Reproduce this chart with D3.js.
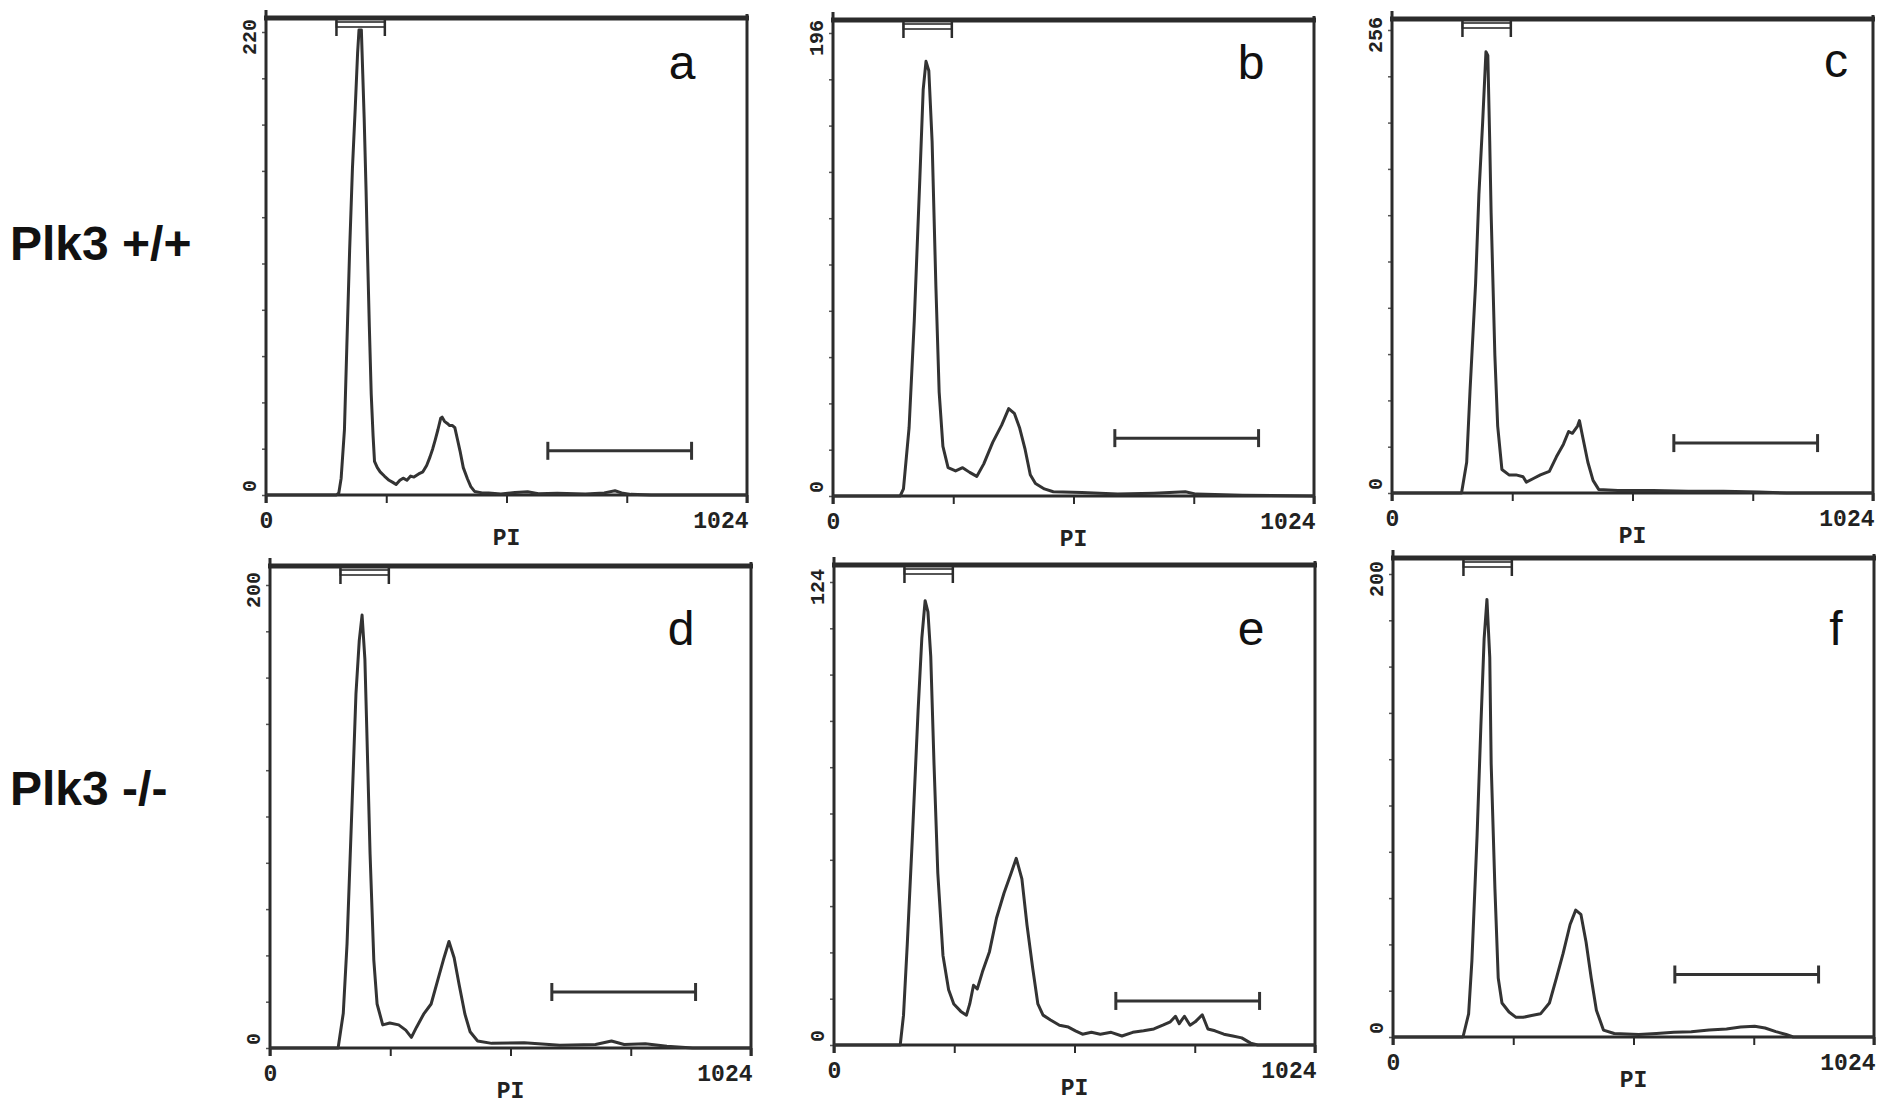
<!DOCTYPE html>
<html>
<head>
<meta charset="utf-8">
<script src="https://cdn.jsdelivr.net/npm/d3@7"></script>
<style>
  body { margin: 0; background: #fff; }
  .tick-lbl { font-family: "Liberation Mono", "Courier New", monospace; font-weight: bold; fill: #222; }
</style>
</head>
<body>
<div class="canvas"></div>
<script>
// panel letters and y-axis maxima (counts)
const panelLetters = ['a', 'b', 'c', 'd', 'e', 'f'];
const yMax = [220, 196, 256, 200, 124, 200];
const rowLabels = ['Plk3 +/+', 'Plk3 -/-'];
const xTickValues = [0, 256, 512, 768, 1024];
const xTickLabels = ['0', '', '', '', '1024'];
const xLabel = 'PI';

// gate markers (channel units) and height of the lower gate (counts)
const gateTop = [150, 253];
const gateBottom = [600, 906];
const gateBottomY = [21, 24.5, 27.6, 24.2, 11.8, 27];

// DNA histograms, [channel, count]
const seriesA = [[0,0],[150,0],[155,1],[160,8],[167,31],[172,70],[178,116],[184,155],[190,184],[195,210],[198,221],[203,221],[206,200],[209,179],[213,145],[216,116],[220,80],[224,48],[228,28],[231,16],[237,13],[243,11],[252,9],[262,7],[270,6],[277,5],[285,7],[292,8],[300,7],[308,9],[315,8.5],[325,10],[334,11],[342,14],[349,18],[355,22],[360,26],[366,31],[372,36.5],[375,37],[380,35],[386,34],[391,33],[397,33],[402,32],[408,26],[413,21],[420,13],[429,7.6],[436,4],[444,1.7],[460,1],[474,1],[500,0.5],[530,1.2],[557,1.5],[580,0.6],[620,0.8],[680,0.5],[720,1],[743,2],[760,0.8],[777,0.3],[820,0],[1024,0]];
const seriesB = [[0,0],[143,0],[150,3],[162,29],[173,74],[185,135],[192,172],[198,184],[204,180],[211,150],[219,89],[226,44],[234,21],[245,12],[261,10.6],[276,12],[291,10],[306,8.3],[321,13.6],[340,22.7],[359,30],[374,37],[386,35],[397,29],[409,19.7],[420,9],[431,5.3],[450,3],[469,1.8],[530,1.5],[606,0.8],[683,1.2],[750,1.8],[773,0.8],[872,0.3],[1024,0]];
const seriesC = [[0,0],[148,0],[159,17],[166,56],[178,116],[185,165],[193,205],[200,244],[204,242],[208,195],[211,155],[219,76],[225,37],[234,13],[249,10],[264,10],[279,9],[286,6],[301,8],[316,10],[335,12],[350,20],[365,27],[376,34],[384,33],[395,37],[399,40],[406,31],[417,17],[428,7],[440,2],[481,1.4],[556,1.4],[631,1],[706,1],[781,0.6],[840,0],[1024,0]];
const seriesD = [[0,0],[145,0],[156,15],[164,45],[175,107],[183,153],[190,176],[196,187],[202,168],[206,138],[213,84],[221,38],[228,19],[240,10],[255,10.8],[274,10],[289,7.7],[301,4.6],[312,9],[327,14.6],[343,19],[358,30],[369,38],[381,46],[392,39],[403,27],[415,14.6],[426,7],[442,3],[472,2],[541,2.3],[617,1.2],[693,1.5],[727,3],[754,1.5],[799,1.8],[845,0.8],[900,0],[1024,0]];
const seriesE = [[0,0],[141,0],[148,8],[156,27],[167,56],[179,89.5],[187,109],[194,119],[200,116],[206,104],[213,75],[221,46],[232,24],[244,14.8],[255,11],[270,9],[282,8],[289,11],[297,16],[305,15],[316,19.6],[331,25],[346,34],[362,40.7],[377,46],[388,50],[400,44.5],[411,32],[423,20.6],[434,11],[445,8],[461,6.7],[480,5.3],[499,4.8],[514,3.8],[529,2.9],[548,3.4],[567,2.9],[590,3.4],[613,2.4],[636,3.4],[659,3.8],[681,4.3],[700,5.3],[716,6.2],[727,7.7],[735,5.7],[746,7.7],[758,5.3],[769,6.2],[784,8.1],[796,4.3],[811,3.8],[830,2.9],[849,2.4],[868,1.9],[887,0.5],[902,0],[1024,0]];
const seriesF = [[0,0],[149,0],[161,10],[168,33],[179,87],[187,134],[194,172],[200,189],[206,164],[209,118],[217,64],[224,25.5],[232,14.7],[247,10.8],[262,8.5],[277,8.5],[295,9.3],[314,10],[333,14.7],[348,25.5],[362,36],[377,48.6],[389,54.8],[400,53],[411,41],[422,25.5],[433,11.6],[448,3],[471,1.5],[523,1.1],[561,1.5],[598,2],[635,2.3],[673,3],[710,3.5],[740,4.3],[770,4.6],[792,3.9],[815,2.3],[837,1.1],[852,0],[1024,0]];
const allSeries = [seriesA, seriesB, seriesC, seriesD, seriesE, seriesF];

// panel placement on the page
const panels = [
    { left: 266, top: 18, base: 495, ldx: 416, ldy: 61 },
    { left: 833, top: 20, base: 496, ldx: 418, ldy: 59 },
    { left: 1392, top: 19, base: 493, ldx: 444, ldy: 58 },
    { left: 270, top: 566, base: 1048, ldx: 411, ldy: 79 },
    { left: 834, top: 565, base: 1045, ldx: 417, ldy: 80 },
    { left: 1393, top: 558, base: 1037, ldx: 443, ldy: 87 }
];
const pw = 481;      // panel width
const tickSpan = 463; // baseline to top y tick
const ink = '#2b2b2b';

const svg = d3.select('.canvas')
    .append('svg')
    .attr('width', 1890)
    .attr('height', 1107);

// row labels
svg.selectAll('.row-label')
    .data(rowLabels)
    .enter()
    .append('text')
    .attr('class', 'row-label')
    .attr('x', 10)
    .attr('y', (d, i) => i === 0 ? 260 : 805)
    .attr('font-family', 'Liberation Sans, Arial, sans-serif')
    .attr('font-weight', 'bold')
    .attr('font-size', 48)
    .attr('fill', '#111')
    .text(d => d);

panels.forEach((p, i) => {
    const x = d3.scaleLinear().domain([0, 1024]).range([p.left, p.left + pw]);
    const y = d3.scaleLinear().domain([0, yMax[i]]).range([p.base, p.base - tickSpan]);
    const g = svg.append('g').attr('class', 'panel');
    const x0 = p.left, x1 = p.left + pw;

    // x ticks
    const xAxis = g.append('g')
        .attr('transform', `translate(0, ${p.base})`)
        .call(d3.axisBottom(x).tickValues(xTickValues).tickSize(8).tickPadding(4)
            .tickFormat((d, k) => xTickLabels[k]));
    xAxis.select('.domain').remove();
    xAxis.selectAll('line').attr('stroke', ink).attr('stroke-width', 2);
    xAxis.selectAll('text')
        .attr('class', 'tick-lbl')
        .attr('font-size', 23)
        .attr('fill', '#222')
        .attr('dy', '0.9em')
        .attr('text-anchor', (d, k) => k === 4 ? 'end' : 'middle')
        .attr('dx', (d, k) => k === 4 ? 1 : 0);

    // y ticks
    const yAxis = g.append('g')
        .attr('transform', `translate(${x0}, 0)`)
        .call(d3.axisLeft(y).tickValues(d3.range(11).map(k => yMax[i] * k / 10)).tickSize(4).tickFormat(''));
    yAxis.select('.domain').remove();
    yAxis.selectAll('line').attr('stroke', '#555').attr('stroke-width', 1.5);

    // y labels (rotated)
    g.append('text')
        .attr('class', 'tick-lbl')
        .attr('font-size', 20)
        .attr('text-anchor', 'middle')
        .attr('transform', `translate(${x0 - 10}, ${y(yMax[i]) + 5}) rotate(-90)`)
        .text(yMax[i]);
    g.append('text')
        .attr('class', 'tick-lbl')
        .attr('font-size', 20)
        .attr('text-anchor', 'start')
        .attr('transform', `translate(${x0 - 10}, ${p.base - 3}) rotate(-90)`)
        .text('0');

    // x axis title
    g.append('text')
        .attr('class', 'tick-lbl')
        .attr('font-size', 23)
        .attr('text-anchor', 'middle')
        .attr('x', (x0 + x1) / 2)
        .attr('y', p.base + 50)
        .text(xLabel);

    // frame: thick top, left axis, right side, baseline
    g.append('line').attr('x1', x0 - 2).attr('x2', x1 + 2).attr('y1', p.top).attr('y2', p.top)
        .attr('stroke', ink).attr('stroke-width', 5);
    g.append('line').attr('x1', x0).attr('x2', x0).attr('y1', p.top - 8).attr('y2', p.base + 8)
        .attr('stroke', ink).attr('stroke-width', 3);
    g.append('line').attr('x1', x1).attr('x2', x1).attr('y1', p.top - 4).attr('y2', p.base + 8)
        .attr('stroke', ink).attr('stroke-width', 3);
    g.append('line').attr('x1', x0).attr('x2', x1).attr('y1', p.base).attr('y2', p.base)
        .attr('stroke', ink).attr('stroke-width', 3);

    // histogram
    g.append('path')
        .datum(allSeries[i])
        .attr('fill', 'none')
        .attr('stroke', '#333')
        .attr('stroke-width', 3)
        .attr('stroke-linejoin', 'round')
        .attr('d', d3.line().x(d => x(d[0])).y(d => y(d[1])));

    // top gate marker
    const ga = x(gateTop[0]), gb = x(gateTop[1]);
    g.append('rect').attr('x', ga).attr('y', p.top + 4).attr('width', gb - ga).attr('height', 5)
        .attr('fill', 'none').attr('stroke', '#444').attr('stroke-width', 1.8);
    [ga, gb].forEach(gx => {
        g.append('line').attr('x1', gx).attr('x2', gx).attr('y1', p.top + 2).attr('y2', p.top + 18)
            .attr('stroke', ink).attr('stroke-width', 2.5);
    });

    // lower gate marker
    const gy = y(gateBottomY[i]);
    g.append('line').attr('x1', x(gateBottom[0])).attr('x2', x(gateBottom[1])).attr('y1', gy).attr('y2', gy)
        .attr('stroke', '#333').attr('stroke-width', 3);
    gateBottom.forEach(v => {
        g.append('line').attr('x1', x(v)).attr('x2', x(v)).attr('y1', gy - 9).attr('y2', gy + 9)
            .attr('stroke', '#333').attr('stroke-width', 3);
    });

    // panel letter
    g.append('text')
        .attr('x', p.left + p.ldx)
        .attr('y', p.top + p.ldy)
        .attr('text-anchor', 'middle')
        .attr('font-family', 'Liberation Sans, Arial, sans-serif')
        .attr('font-size', 48)
        .attr('fill', '#111')
        .text(panelLetters[i]);
});
</script>
</body>
</html>
